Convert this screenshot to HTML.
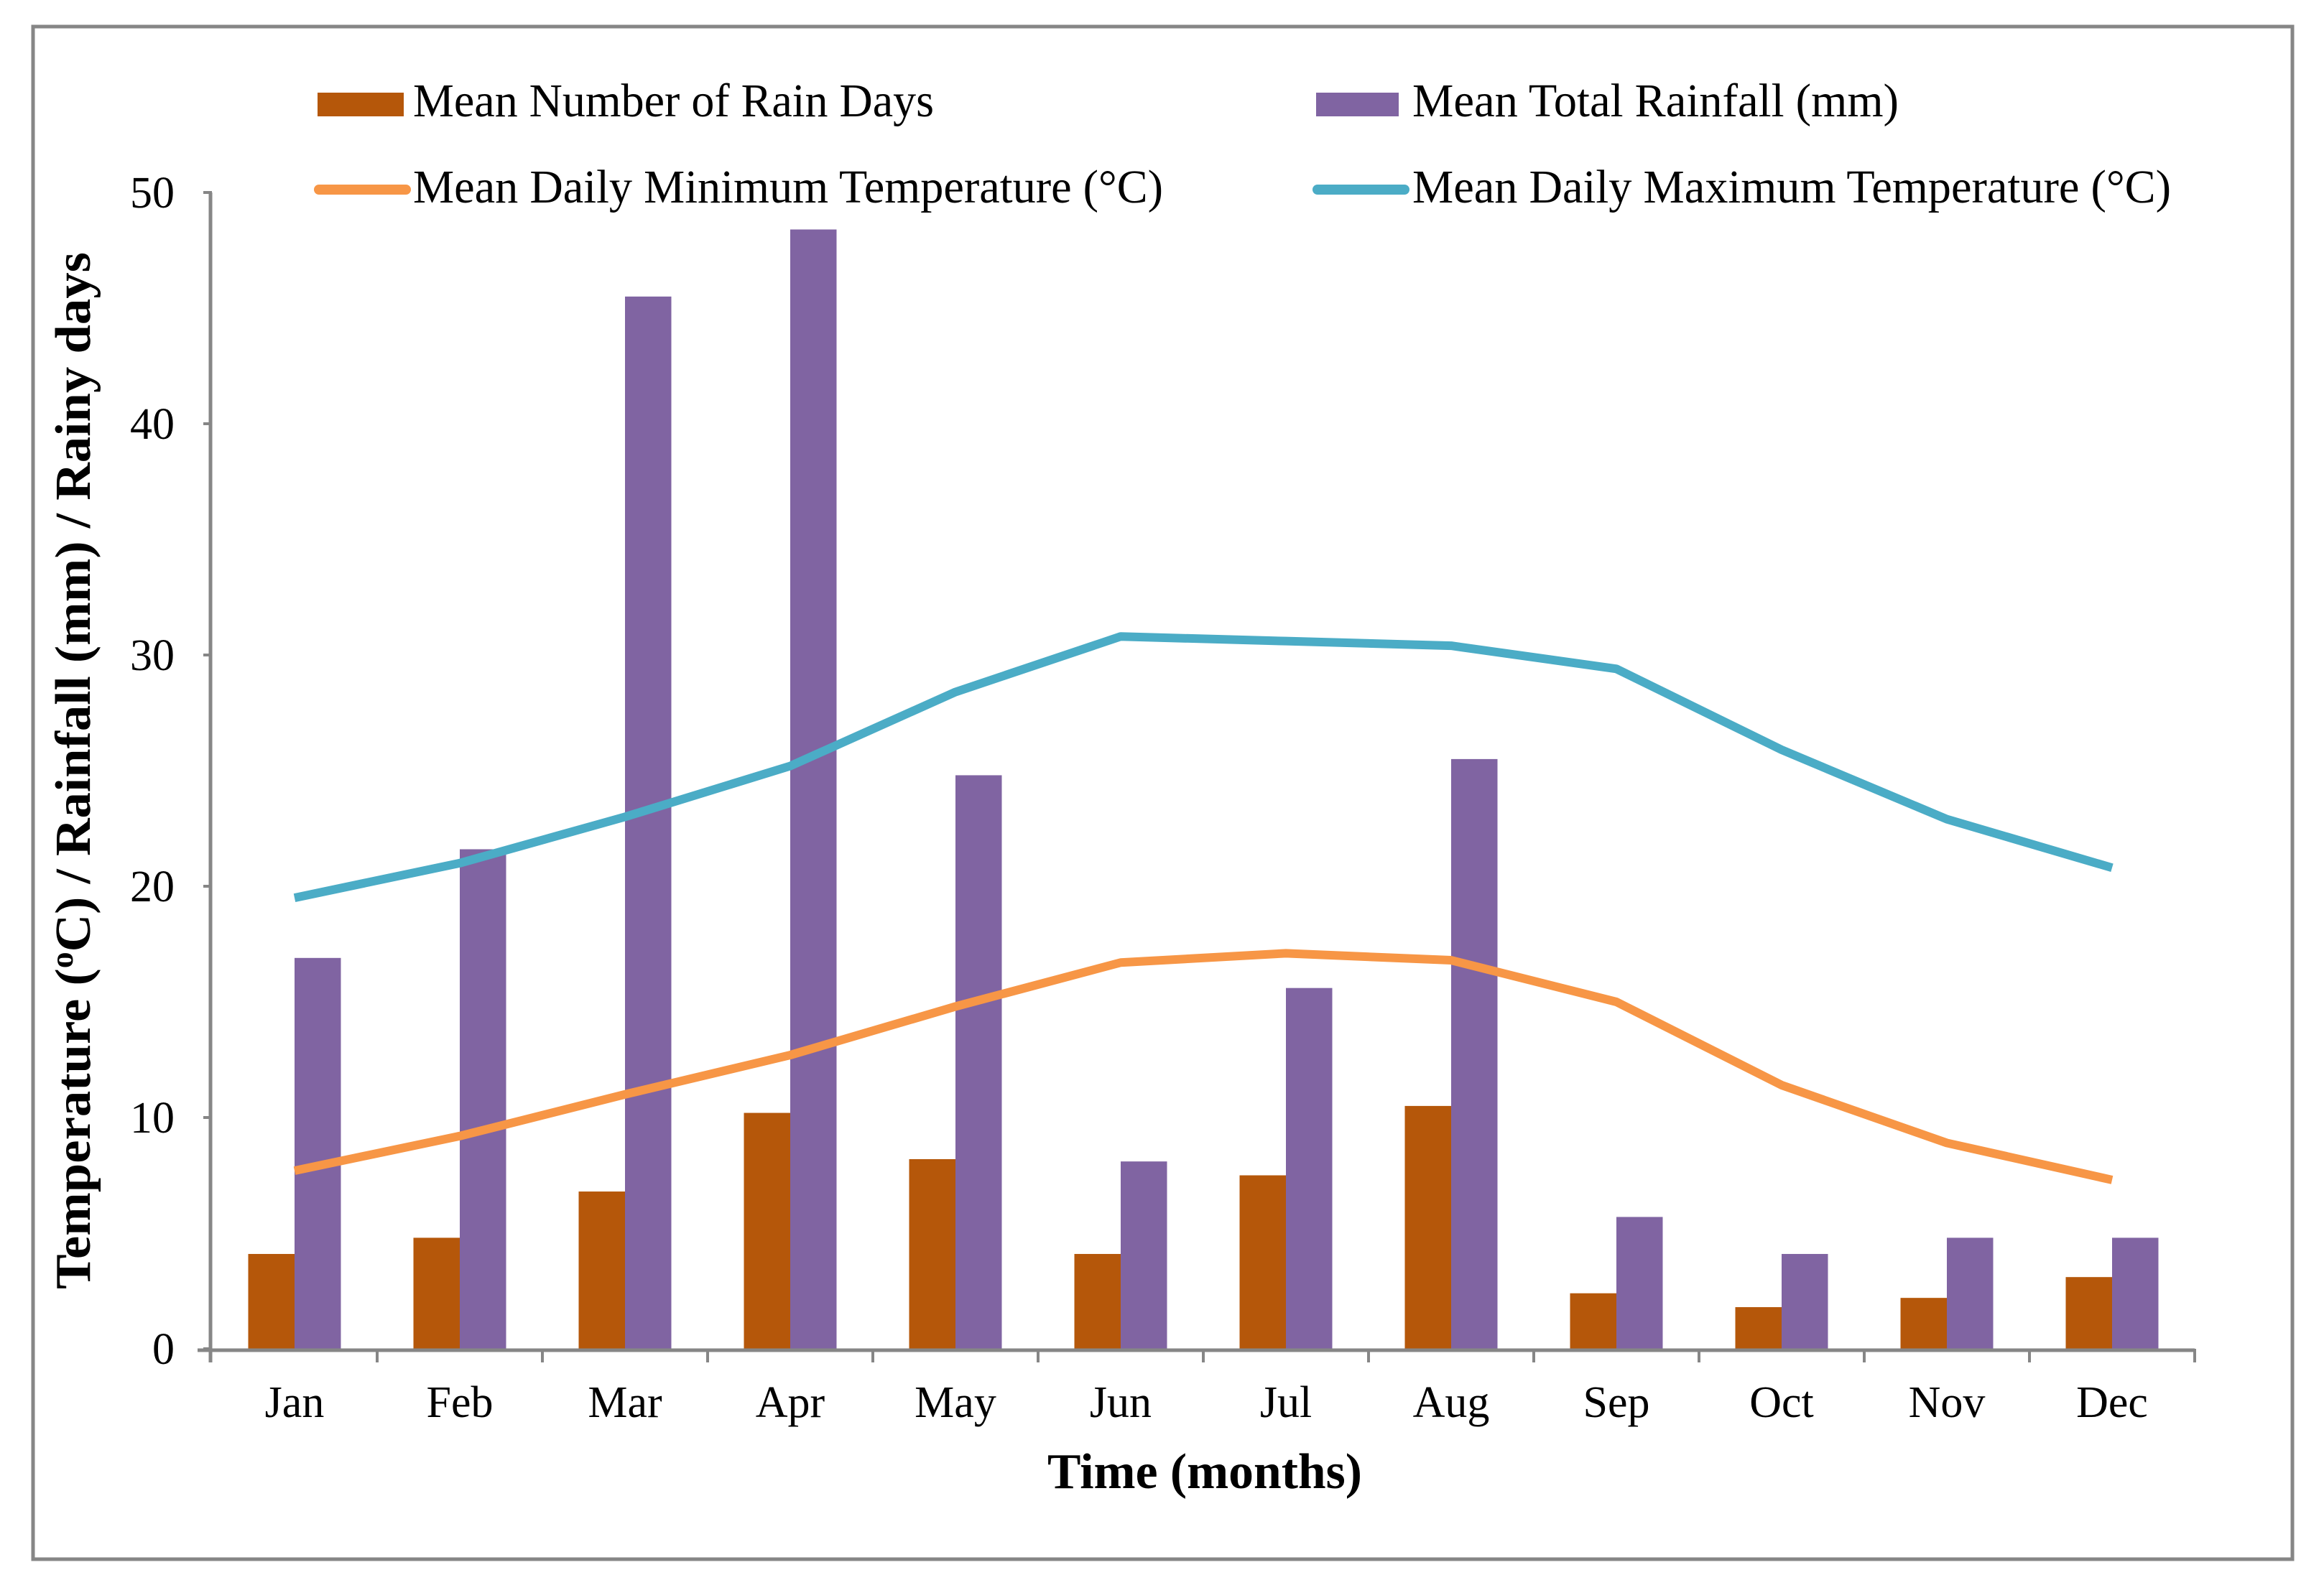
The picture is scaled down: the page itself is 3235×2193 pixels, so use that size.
<!DOCTYPE html>
<html><head><meta charset="utf-8"><style>
html,body{margin:0;padding:0;background:#fff;}
svg{display:block;}
text{font-family:"Liberation Serif",serif;fill:#000;}
</style></head><body>
<svg id="chart" width="3235" height="2193" viewBox="0 0 3235 2193" xmlns="http://www.w3.org/2000/svg">
<rect x="46" y="37" width="3145" height="2134" fill="#fff" stroke="#868686" stroke-width="5"/>
<g id="legend">
 <g>
  <rect x="442" y="129" width="120" height="33" fill="#B5570A"/>
  <text x="575" y="162" font-size="66" textLength="725" lengthAdjust="spacingAndGlyphs">Mean Number of Rain Days</text>
 </g>
 <g>
  <rect x="1832" y="129" width="115" height="33" fill="#8064A2"/>
  <text x="1966" y="162" font-size="66" textLength="677" lengthAdjust="spacingAndGlyphs">Mean Total Rainfall (mm)</text>
 </g>
 <g>
  <line x1="444" y1="264" x2="565" y2="264" stroke="#F79646" stroke-width="14" stroke-linecap="round"/>
  <text x="575" y="282" font-size="66" textLength="1044" lengthAdjust="spacingAndGlyphs">Mean Daily Minimum Temperature (°C)</text>
 </g>
 <g>
  <line x1="1834" y1="264" x2="1955" y2="264" stroke="#4BACC6" stroke-width="14" stroke-linecap="round"/>
  <text x="1966" y="282" font-size="66" textLength="1056" lengthAdjust="spacingAndGlyphs">Mean Daily Maximum Temperature (°C)</text>
 </g>
</g>
<g id="plot"></g>
<text x="1677" y="2072" font-size="70" font-weight="bold" text-anchor="middle" textLength="438" lengthAdjust="spacingAndGlyphs">Time  (months)</text>
<text transform="translate(125,1073) rotate(-90)" font-size="70" font-weight="bold" text-anchor="middle" textLength="1444" lengthAdjust="spacingAndGlyphs">Temperature  (<tspan font-size="44" dy="-24">o</tspan><tspan dy="24">C) / Rainfall  (mm)  /  Rainy days</tspan></text>
</svg>
<script>
const months = ["Jan","Feb","Mar","Apr","May","Jun","Jul","Aug","Sep","Oct","Nov","Dec"];
const rainDays = [4.1,4.8,6.8,10.2,8.2,4.1,7.5,10.5,2.4,1.8,2.2,3.1];
const rainfall = [16.9,21.6,45.5,48.4,24.8,8.1,15.6,25.5,5.7,4.1,4.8,4.8];
const minTemp = [7.7,9.2,11.0,12.7,14.8,16.7,17.1,16.8,15.0,11.4,8.9,7.3];
const maxTemp = [19.5,21.0,23.0,25.2,28.4,30.8,30.6,30.4,29.4,25.9,22.9,20.8];
const yTicks = [0,10,20,30,40,50];

const NS = "http://www.w3.org/2000/svg";
const X0 = 295, X1 = 3055, Y0 = 1878, Y1 = 268, YMAX = 50;
const band = (X1 - X0) / months.length;
const BW = 64.5;
function xc(i){ return X0 + band * (i + 0.5); }
function y(v){ return Y0 - (v / YMAX) * (Y0 - Y1); }
const plot = document.getElementById('plot');
function mk(tag, attrs, parent){
  const e = document.createElementNS(NS, tag);
  for (const k in attrs) e.setAttribute(k, attrs[k]);
  (parent || plot).appendChild(e);
  return e;
}

yTicks.forEach(t => {
  const tk = mk('line', {x1: X0 - 12, x2: X0, y1: y(t), y2: y(t), stroke: '#868686', 'stroke-width': 4});
  
  
  const lb = mk('text', {x: 243, y: y(t) + 21, 'font-size': 62, 'text-anchor': 'end'});
  lb.textContent = String(t);
  
  
});

months.forEach((m, i) => {
  const b1 = mk('rect', {x: xc(i) - BW, y: y(rainDays[i]), width: BW, height: Y0 - y(rainDays[i]), fill: '#B5570A'});
  
  
  const b2 = mk('rect', {x: xc(i), y: y(rainfall[i]), width: BW, height: Y0 - y(rainfall[i]), fill: '#8064A2'});
  
  
});

const ya = mk('line', {x1: X0 - 2, x2: X0 - 2, y1: Y1, y2: Y0 + 19, stroke: '#868686', 'stroke-width': 5});


const xa = mk('line', {x1: X0 - 20, x2: X1, y1: Y0 + 2, y2: Y0 + 2, stroke: '#868686', 'stroke-width': 5});


for (let i = 1; i <= months.length; i++) {
  const t = mk('line', {x1: X0 + band * i, x2: X0 + band * i, y1: Y0, y2: Y0 + 19, stroke: '#868686', 'stroke-width': 4});
  
  
}
months.forEach((m, i) => {
  const l = mk('text', {x: xc(i), y: 1973, 'font-size': 62, 'text-anchor': 'middle'});
  l.textContent = m;
  
  
});

function pts(arr){ return arr.map((v, i) => xc(i) + ',' + y(v)).join(' '); }
const lmin = mk('polyline', {points: pts(minTemp), fill: 'none', stroke: '#F79646', 'stroke-width': 12, 'stroke-linejoin': 'round'});


const lmax = mk('polyline', {points: pts(maxTemp), fill: 'none', stroke: '#4BACC6', 'stroke-width': 12, 'stroke-linejoin': 'round'});


</script>
</body></html>
